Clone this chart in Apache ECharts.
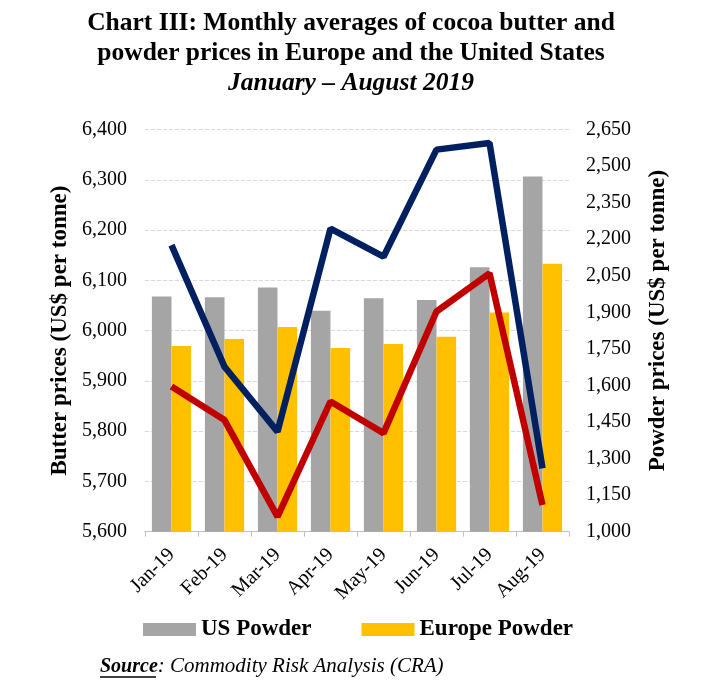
<!DOCTYPE html>
<html>
<head>
<meta charset="utf-8">
<script src="https://cdn.jsdelivr.net/npm/echarts@6/dist/echarts.min.js"></script>
<style>
html,body{margin:0;padding:0;background:#fff;}
#chart{width:702px;height:687px;}
</style>
</head>
<body>
<div id="chart"></div>
<script>
const categories = ['Jan-19','Feb-19','Mar-19','Apr-19','May-19','Jun-19','Jul-19','Aug-19'];
const usPowder = [1965, 1962, 2002, 1906, 1958, 1951, 2085, 2457];
const europePowder = [1762, 1791, 1840, 1754, 1770, 1800, 1899, 2099];
const usButter = [6170, 5928, 5799, 6203, 6147, 6360, 6373, 5726];
const europeButter = [5889, 5822, 5630, 5859, 5796, 6038, 6114, 5653];
const powderTicks = [1000, 1150, 1300, 1450, 1600, 1750, 1900, 2050, 2200, 2350, 2500, 2650];

const FONT = "'Liberation Serif', 'Times New Roman', serif";
const fmt = v => Number(v).toLocaleString('en-US');

const chart = echarts.init(document.getElementById('chart'), null, {renderer: 'canvas'});
chart.setOption({
  backgroundColor: '#ffffff',
  animation: false,
  textStyle: {fontFamily: FONT, color: '#000'},
  title: [
    {
      text: '{a|Chart III: Monthly averages of cocoa butter and}\n{a|powder prices in Europe and the United States}\n{b|January \u2013 August 2019}',
      left: 'center', top: 8, padding: 0,
      textStyle: {
        fontFamily: FONT,
        rich: {
          a: {fontFamily: FONT, fontSize: 25.5, fontWeight: 'bold', color: '#000', lineHeight: 30, align: 'center'},
          b: {fontFamily: FONT, fontSize: 25.5, fontWeight: 'bold', fontStyle: 'italic', color: '#000', lineHeight: 30, align: 'center'}
        }
      }
    },
    {
      text: '{s|Source}{t|: Commodity Risk Analysis (CRA)}',
      left: 100, top: 656, padding: 0,
      textStyle: {
        fontFamily: FONT,
        rich: {
          s: {fontFamily: FONT, fontSize: 20, fontWeight: 'bold', fontStyle: 'italic', color: '#000'},
          t: {fontFamily: FONT, fontSize: 21, fontWeight: 'normal', fontStyle: 'italic', color: '#000'}
        }
      }
    }
  ],
  graphic: [
    {type: 'line', shape: {x1: 100, y1: 677, x2: 156, y2: 677}, style: {stroke: '#000', lineWidth: 1.5}}
  ],
  legend: {
    data: ['US Powder', 'Europe Powder'],
    left: 143, top: 618, padding: 0,
    itemWidth: 53, itemHeight: 13, itemGap: 50,
    icon: 'rect',
    textStyle: {fontFamily: FONT, fontSize: 23, fontWeight: 'bold', color: '#000'}
  },
  grid: {left: 145, right: 133, top: 129.5, bottom: 155.3, containLabel: false},
  xAxis: {
    type: 'category',
    data: categories,
    axisLine: {lineStyle: {color: '#BFBFBF', width: 1}},
    axisTick: {show: true, length: 5, lineStyle: {color: '#BFBFBF'}},
    axisLabel: {rotate: 45, fontFamily: FONT, fontSize: 20, color: '#000', margin: 20, interval: 0}
  },
  yAxis: [
    {
      type: 'value', min: 5600, max: 6400, interval: 100,
      name: 'Butter prices (US$ per tonne)',
      nameLocation: 'middle', nameGap: 63,
      nameTextStyle: {fontFamily: FONT, fontSize: 23, fontWeight: 'bold', color: '#000'},
      axisLine: {show: false}, axisTick: {show: false},
      axisLabel: {formatter: fmt, fontFamily: FONT, fontSize: 20, color: '#000', margin: 18},
      splitLine: {show: true, lineStyle: {color: '#D9D9D9', width: 1, type: [4, 2]}}
    },
    {
      type: 'value', min: 1000, max: 2650,
      name: 'Powder prices (US$ per tonne)',
      nameLocation: 'middle', nameGap: 78,
      nameTextStyle: {fontFamily: FONT, fontSize: 23, fontWeight: 'bold', color: '#000', padding: [0, 0, 0, 20]},
      axisLine: {show: false}, axisTick: {show: false},
      axisLabel: {customValues: powderTicks, formatter: fmt, fontFamily: FONT, fontSize: 20, color: '#000', margin: 17},
      splitLine: {show: false}
    }
  ],
  series: [
    {
      name: 'US Powder', type: 'bar', yAxisIndex: 1, data: usPowder,
      itemStyle: {color: '#A5A5A5'}, barGap: '0%', barCategoryGap: '26%', z: 2
    },
    {
      name: 'Europe Powder', type: 'bar', yAxisIndex: 1, data: europePowder,
      itemStyle: {color: '#FFC000'}, barGap: '0%', barCategoryGap: '26%', z: 2
    },
    {
      name: 'US Butter', type: 'line', yAxisIndex: 0, data: usButter,
      showSymbol: false, symbol: 'none', lineStyle: {color: '#002060', width: 6.5}, itemStyle: {color: '#002060'}, z: 5
    },
    {
      name: 'Europe Butter', type: 'line', yAxisIndex: 0, data: europeButter,
      showSymbol: false, symbol: 'none', lineStyle: {color: '#C00000', width: 6.5}, itemStyle: {color: '#C00000'}, z: 5
    }
  ]
});
</script>
</body>
</html>
